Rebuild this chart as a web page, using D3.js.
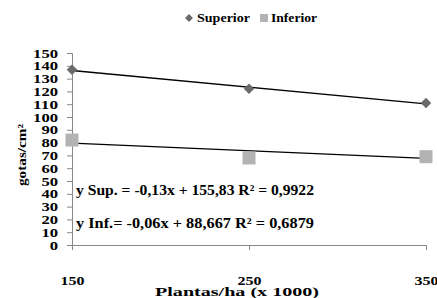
<!DOCTYPE html>
<html>
<head>
<meta charset="utf-8">
<script src="https://cdn.jsdelivr.net/npm/d3@7"></script>
</head>
<body style="margin:0; background:#fff">
<script>
// data
var plantas = [150, 250, 350];
var superior = [137, 122, 111];
var inferior = [82, 68, 69];
var yTicks = d3.range(0, 151, 10);
// trend lines (slope, intercept) as printed on the chart
var supFit = [-0.13, 155.83];
var infFit = [-0.06, 88.667];
var supEq = "y Sup. = -0,13x + 155,83 R\u00b2 = 0,9922";
var infEq = "y  Inf.= -0,06x + 88,667 R\u00b2 = 0,6879";

var width = 437, height = 298;
var serif = "'Liberation Serif'";

var svg = d3.select("body").append("svg")
    .attr("width", width)
    .attr("height", height);

var x = d3.scaleLinear().domain([150, 350]).range([72, 426]);
var y = d3.scaleLinear().domain([0, 150]).range([245, 53]);

// the original type is a wide heavy serif, so stretch to the measured widths
function label(sel, size, len) {
  sel.attr("font-family", null)
    .style("font-family", serif).style("font-weight", "bold").style("font-size", size + "px");
  if (len) sel.attr("textLength", len).attr("lengthAdjust", "spacingAndGlyphs");
  return sel;
}

// y axis
var yAxis = svg.append("g")
    .attr("transform", "translate(72,0)")
    .call(d3.axisLeft(y).tickValues(yTicks).tickSize(5).tickPadding(9));
yAxis.attr("font-family", null);
yAxis.select(".domain").attr("stroke", "#888");
yAxis.selectAll(".tick line").attr("stroke", "#888");
yAxis.selectAll(".tick text").each(function(d) {
  label(d3.select(this), 12.5, String(d).length * 8.3).attr("fill", "#000");
});

// x axis
var xAxis = svg.append("g")
    .attr("transform", "translate(0,245)")
    .call(d3.axisBottom(x).tickValues(plantas).tickSize(5).tickPadding(26));
xAxis.attr("font-family", null);
xAxis.select(".domain").attr("stroke", "#888");
xAxis.selectAll(".tick line").attr("stroke", "#888");
xAxis.selectAll(".tick text").each(function(d) {
  label(d3.select(this), 13, 24).attr("fill", "#000");
});

// axis titles
label(svg.append("text"), 13, 164)
    .attr("x", 237).attr("y", 296)
    .attr("text-anchor", "middle")
    .text("Plantas/ha (x 1000)");

label(svg.append("text"), 13, 62)
    .attr("transform", "translate(26,155) rotate(-90)")
    .attr("text-anchor", "middle")
    .text("gotas/cm\u00b2");

// trend lines
function fitLine(fit) {
  return [plantas[0], plantas[plantas.length - 1]]
    .map(function(p) { return [x(p), y(fit[0] * p + fit[1])]; });
}
[supFit, infFit].forEach(function(f) {
  svg.append("path")
    .attr("d", d3.line()(fitLine(f)))
    .attr("stroke", "#000")
    .attr("stroke-width", 1.3)
    .attr("fill", "none");
});

// markers
svg.selectAll(".sup")
    .data(superior)
    .enter().append("path")
    .attr("class", "sup")
    .attr("transform", function(d, i) { return "translate(" + x(plantas[i]) + "," + y(d) + ")"; })
    .attr("d", d3.symbol().type(d3.symbolDiamond2).size(70))
    .attr("fill", "#6a6a6a");

svg.selectAll(".inf")
    .data(inferior)
    .enter().append("rect")
    .attr("class", "inf")
    .attr("x", function(d, i) { return x(plantas[i]) - 6.5; })
    .attr("y", function(d) { return y(d) - 6.5; })
    .attr("width", 13).attr("height", 13)
    .attr("fill", "#b3b3b3");

// equations
label(svg.append("text"), 15, 238).attr("x", 76).attr("y", 195).text(supEq);
label(svg.append("text"), 15, 238).attr("x", 76).attr("y", 228).text(infEq);

// legend
svg.append("path")
    .attr("transform", "translate(189,18)")
    .attr("d", d3.symbol().type(d3.symbolDiamond2).size(40))
    .attr("fill", "#6a6a6a");
label(svg.append("text"), 12, 53).attr("x", 197).attr("y", 22).text("Superior");
svg.append("rect").attr("x", 260).attr("y", 14).attr("width", 8).attr("height", 8).attr("fill", "#b3b3b3");
label(svg.append("text"), 12, 46).attr("x", 271).attr("y", 22).text("Inferior");
</script>
</body>
</html>
